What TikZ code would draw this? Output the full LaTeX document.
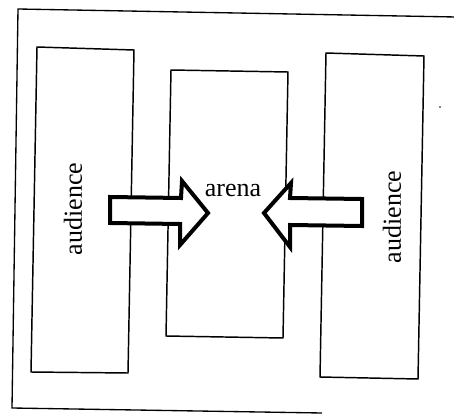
\documentclass[tikz,border=0pt]{standalone}
\usepackage{fontspec}
\setmainfont{Liberation Serif}
\begin{document}
\begin{tikzpicture}[x=0.75pt,y=-0.75pt,
  frame/.style={draw=black,line width=1pt,line join=miter},
  boxline/.style={draw=black,line width=1.1pt,line join=miter},
  bigarrow/.style={draw=black,line width=3pt,line join=miter,fill=white},
  lbl/.style={font=\fontsize{19.5}{22}\selectfont,inner sep=0pt}]
\useasboundingbox (0,0) rectangle (454,414);
% outer frame (open on the right as in the scan)
\draw[frame] (456,17) -- (18,9) -- (12,408) -- (322,413);
% boxes
\draw[boxline] (37,47) -- (134,50) -- (128,373) -- (31,372) -- cycle;
\draw[boxline] (171,70) -- (288,72) -- (283,338) -- (166,336) -- cycle;
\draw[boxline] (326,53) -- (424,56) -- (418,379) -- (320,377) -- cycle;
% arrows
\draw[bigarrow] (110,197) -- (181,198) -- (182,181) -- (208,213) -- (180,245) -- (180,224) -- (110,223) -- cycle;
\draw[bigarrow] (362,199) -- (290,198) -- (291,183) -- (264,213) -- (290,247) -- (290,225) -- (362,226) -- cycle;
% labels
\node[lbl,rotate=90] (audL) at (73,209) {audience};
\node[lbl,rotate=90] (audR) at (392,217) {audience};
\node[lbl] (arena) at (233,190) {arena};
% speck
\fill (440,107) circle (0.9);
\end{tikzpicture}
\end{document}
